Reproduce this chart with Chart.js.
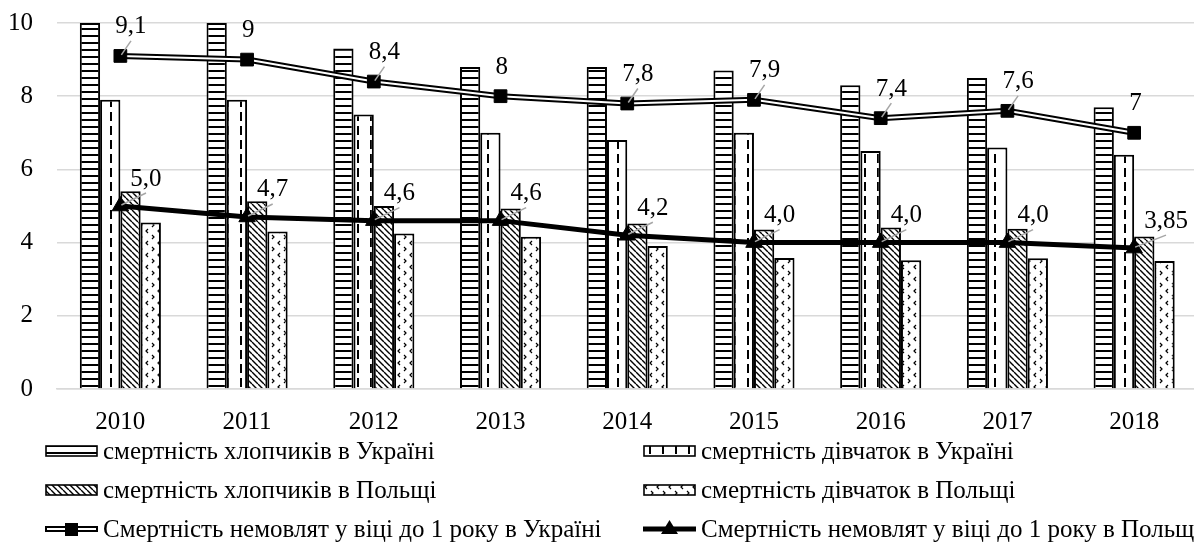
<!DOCTYPE html>
<html>
<head>
<meta charset="utf-8">
<script src="https://cdn.jsdelivr.net/npm/chart.js@4.4.1/dist/chart.umd.min.js"></script>
<style>
  html, body { margin: 0; padding: 0; background: #fff; overflow: hidden; width: 1194px; height: 554px; }
  #wrap { position: relative; width: 1208px; height: 554px; }
  #legend {
    position: absolute; left: 45px; top: 431px;
    display: grid; grid-template-columns: 598px 598px; grid-auto-rows: 39px;
    font-family: "Liberation Serif"; font-size: 25px; color: #000; white-space: nowrap;
  }
  .item { display: flex; align-items: center; }
  .item canvas { margin-right: 5px; flex: none; }
</style>
</head>
<body>
<div id="wrap">
  <canvas id="myChart" width="1208" height="434"></canvas>
  <div id="legend"></div>
</div>
<script>
// Дані
const years = ['2010', '2011', '2012', '2013', '2014', '2015', '2016', '2017', '2018'];
const boysUkraine = [10, 10, 9.3, 8.8, 8.8, 8.7, 8.3, 8.5, 7.7];
const girlsUkraine = [7.9, 7.9, 7.5, 7.0, 6.8, 7.0, 6.5, 6.6, 6.4];
const boysPoland = [5.4, 5.13, 5.0, 4.93, 4.52, 4.36, 4.41, 4.38, 4.17];
const girlsPoland = [4.55, 4.3, 4.25, 4.16, 3.91, 3.58, 3.52, 3.57, 3.5];
const infantUkraine = [9.1, 9, 8.4, 8, 7.8, 7.9, 7.4, 7.6, 7];
const infantPoland = [5.0, 4.7, 4.6, 4.6, 4.2, 4.0, 4.0, 4.0, 3.85];
const infantUkraineLabels = ['9,1', '9', '8,4', '8', '7,8', '7,9', '7,4', '7,6', '7'];
const infantPolandLabels = ['5,0', '4,7', '4,6', '4,6', '4,2', '4,0', '4,0', '4,0', '3,85'];
const yTicks = [0, 2, 4, 6, 8, 10];

const FONT = '"Liberation Serif", serif';
const ctx = document.getElementById('myChart').getContext('2d');

// Візерунки для стовпчиків
function makeTile(w, h, draw) {
    const c = document.createElement('canvas');
    c.width = w; c.height = h;
    const g = c.getContext('2d');
    g.fillStyle = '#fff';
    g.fillRect(0, 0, w, h);
    g.fillStyle = '#000';
    g.strokeStyle = '#000';
    draw(g);
    return c;
}
const tiles = {
    stripes: makeTile(8, 7, g => g.fillRect(0, 0, 8, 2)),
    dashes: makeTile(13, 14, g => g.fillRect(6, 0, 2, 9)),
    hatch: makeTile(6, 6, g => {
        g.lineWidth = 1.4;
        g.beginPath();
        [-6, 0, 6].forEach(k => { g.moveTo(k, 0); g.lineTo(k + 6, 6); });
        g.stroke();
    }),
    chevrons: makeTile(12, 12, g => {
        g.lineWidth = 1.2;
        g.beginPath();
        g.moveTo(4, 1); g.lineTo(2, 3); g.lineTo(4, 5);
        g.moveTo(8, 7); g.lineTo(10, 9); g.lineTo(8, 11);
        g.stroke();
    })
};
const pat = name => ctx.createPattern(tiles[name], 'repeat');

function barSet(label, data, tile) {
    return {
        type: 'bar', label: label, data: data, tile: tile,
        backgroundColor: pat(tile), borderColor: '#000', borderWidth: 2,
        categoryPercentage: 0.64, barPercentage: 1.0, order: 10
    };
}

const data = {
    labels: years,
    datasets: [
        barSet('смертність хлопчиків в Україні', boysUkraine, 'stripes'),
        barSet('смертність дівчаток в Україні', girlsUkraine, 'dashes'),
        barSet('смертність хлопчиків в Польщі', boysPoland, 'hatch'),
        barSet('смертність дівчаток в Польщі', girlsPoland, 'chevrons'),
        {   // зовнішній контур подвійної лінії
            type: 'line', label: 'Смертність немовлят у віці до 1 року в Україні', data: infantUkraine,
            borderColor: '#000', borderWidth: 6, pointRadius: 0, tension: 0, fill: false, order: 3
        },
        {   // біла середина подвійної лінії + маркери
            type: 'line', label: '', data: infantUkraine,
            borderColor: '#fff', borderWidth: 2, tension: 0, fill: false, order: 2,
            pointStyle: 'rect', pointRadius: 9, pointBackgroundColor: '#000', pointBorderColor: '#000', pointBorderWidth: 1,
            valueLabels: infantUkraineLabels, labelShift: { x: -5, y: -31 }
        },
        {
            type: 'line', label: 'Смертність немовлят у віці до 1 року в Польщі', data: infantPoland,
            borderColor: '#000', borderWidth: 5, tension: 0, fill: false, order: 1,
            pointStyle: 'triangle', pointRadius: 9.5, pointBackgroundColor: '#000', pointBorderColor: '#000', pointBorderWidth: 1,
            valueLabels: infantPolandLabels, labelShift: { x: 10, y: -29 }
        }
    ]
};

// Підписи значень з виносками
const valueLabels = {
    id: 'valueLabels',
    afterDatasetsDraw(chart) {
        const c = chart.ctx;
        chart.data.datasets.forEach((ds, i) => {
            if (!ds.valueLabels) return;
            const meta = chart.getDatasetMeta(i);
            c.save();
            c.font = '25px ' + FONT;
            c.fillStyle = '#000';
            c.textAlign = 'left';
            c.textBaseline = 'alphabetic';
            meta.data.forEach((pt, j) => {
                const text = ds.valueLabels[j];
                const w = c.measureText(text).width;
                const left = pt.x + ds.labelShift.x;
                const mid = pt.y + ds.labelShift.y;
                const cx = left + w / 2;
                if (cx - pt.x > 6) {
                    c.strokeStyle = '#a6a6a6';
                    c.lineWidth = 1.5;
                    c.beginPath();
                    c.moveTo(pt.x + 1, pt.y - 1);
                    c.lineTo(cx, mid + 16);
                    c.stroke();
                }
                c.fillText(text, left, mid + 8.5);
            });
            c.restore();
        });
    }
};

const config = {
    data: data,
    options: {
        responsive: false,
        animation: false,
        layout: { padding: { top: 23, right: 0, left: 0, bottom: 0 } },
        plugins: { legend: { display: false }, tooltip: { enabled: false } },
        scales: {
            x: {
                grid: { display: false, drawTicks: false },
                border: { display: true, color: '#d9d9d9', width: 1.5 },
                ticks: { font: { family: FONT, size: 25 }, color: '#000', padding: 18 },
                afterFit: s => { s.height = 45; }
            },
            y: {
                min: 0, max: 10,
                afterBuildTicks: s => { s.ticks = yTicks.map(v => ({ value: v })); },
                grid: { color: '#d9d9d9', lineWidth: 1.5, drawTicks: false },
                border: { display: false },
                ticks: { font: { family: FONT, size: 25 }, color: '#000', padding: 24 },
                afterFit: s => { s.width = 57; s.paddingTop = 0; s.paddingBottom = 0; }
            }
        }
    },
    plugins: [valueLabels]
};

const chart = new Chart(ctx, config);

// Легенда (HTML)
function swatch(ds) {
    const c = document.createElement('canvas');
    const g = c.getContext('2d');
    if (ds.type === 'bar') {
        c.width = 53; c.height = 12;
        g.fillStyle = g.createPattern(tiles[ds.tile], 'repeat');
        g.fillRect(1, 1, 51, 10);
        g.strokeStyle = '#000'; g.lineWidth = 1.6;
        g.strokeRect(1, 1, 51, 10);
    } else {
        c.width = 53; c.height = 20;
        g.strokeStyle = '#000';
        g.lineWidth = ds.borderWidth;
        g.beginPath(); g.moveTo(0, 10); g.lineTo(53, 10); g.stroke();
        g.fillStyle = '#000';
        if (ds.borderWidth === 6) {
            g.strokeStyle = '#fff'; g.lineWidth = 2;
            g.beginPath(); g.moveTo(2, 10); g.lineTo(51, 10); g.stroke();
            g.fillRect(20, 4, 13, 13);
        } else {
            g.beginPath(); g.moveTo(26.5, 1); g.lineTo(35, 15); g.lineTo(18, 15); g.closePath(); g.fill();
        }
    }
    return c;
}
const legendOrder = [0, 1, 2, 3, 4, 6];
const legendBox = document.getElementById('legend');
legendOrder.forEach(i => {
    const ds = chart.data.datasets[i];
    const item = document.createElement('div');
    item.className = 'item';
    item.appendChild(swatch(ds));
    const span = document.createElement('span');
    span.textContent = ds.label;
    item.appendChild(span);
    legendBox.appendChild(item);
});
</script>
</body>
</html>
